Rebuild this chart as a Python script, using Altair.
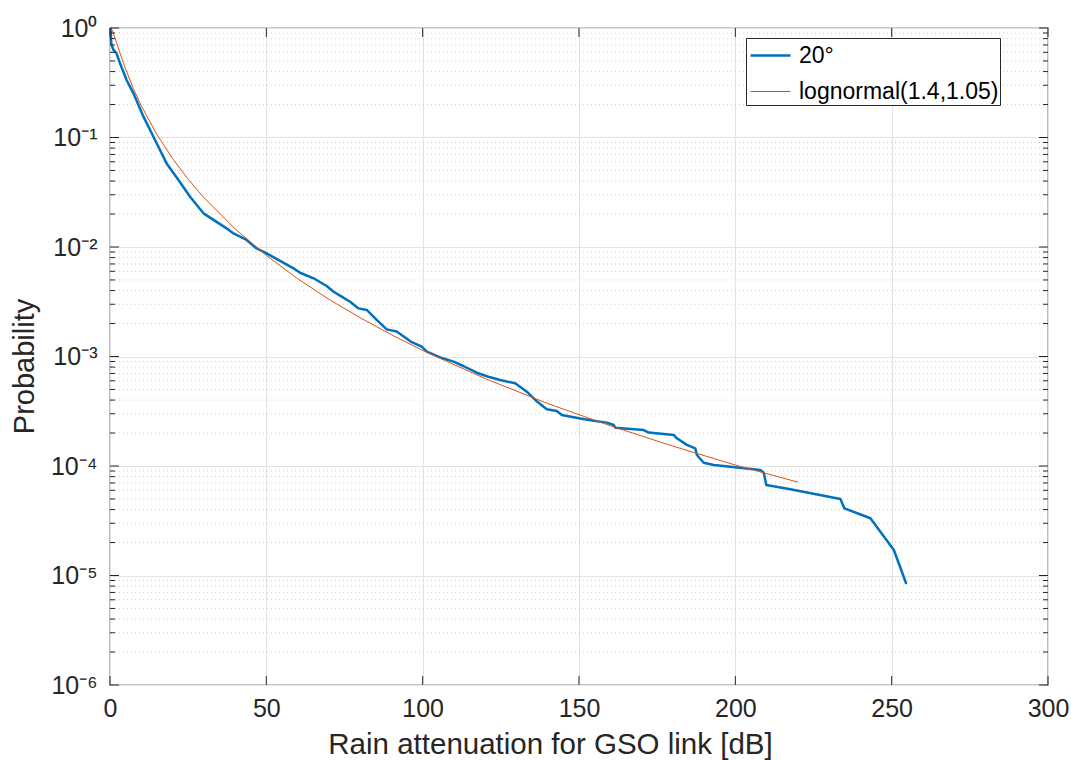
import altair as alt
import pandas as pd

# Measured exceedance curve, 20 deg elevation
att_20 = [0.2, 0.4, 1.1, 2.1, 3.2, 5.3, 7.5, 10.7, 13.9, 18.1, 21.9, 25.6, 29.9, 33.1, 37.3,
          39.5, 43.7, 46.9, 50.1, 58.7, 60.8, 65.1, 69.3, 71.5, 74.1, 76.8, 79.5, 82.1, 85.3, 88.5,
          91.7, 96.5, 99.7, 101.3, 105.6, 109.9, 113.0, 117.3, 121.0, 124.8, 129.6, 133.3, 136.0, 139.7, 142.9,
          144.5, 150.4, 154.7, 158.9, 161.1, 161.6, 170.7, 172.3, 180.3, 181.3, 184.5, 187.2, 187.7, 189.9, 193.1,
          198.4, 208.0, 209.1, 209.9, 217.6, 233.6, 234.9, 243.2, 250.7, 254.7]
prob_20 = [1.0, 0.72, 0.63, 0.587, 0.476, 0.335, 0.253, 0.155, 0.1016, 0.058, 0.041, 0.0288, 0.0203, 0.0177, 0.0148,
           0.0133, 0.0116, 0.0097, 0.00875, 0.00638, 0.00582, 0.00518, 0.0044, 0.0039, 0.00352, 0.00316, 0.00275, 0.00266, 0.00216, 0.00177,
           0.00169, 0.00135, 0.00123, 0.00111, 0.00098, 0.000898, 0.000819, 0.000711, 0.000654, 0.00061, 0.000569, 0.000477, 0.000401, 0.00033, 0.000318,
           0.000292, 0.000272, 0.000259, 0.000249, 0.000237, 0.000224, 0.000213, 0.000202, 0.000192, 0.000179, 0.000156, 0.000145, 0.000126, 0.000107, 0.000102,
           0.0000986, 0.000092, 0.0000869, 0.000067, 0.0000612, 0.00005, 0.000041, 0.0000333, 0.0000171, 0.00000836]

# Lognormal fit
att_fit = [0.3, 0.5, 1, 2, 3, 5, 7.5, 10, 15, 20, 25, 30, 40, 50, 60, 70, 80, 90, 100, 120, 140, 160, 180, 200, 220]
prob_fit = [0.993, 0.977, 0.909, 0.75, 0.613, 0.421, 0.279, 0.195, 0.1064, 0.0643, 0.0416, 0.0283, 0.01463, 0.00838,
            0.00514, 0.00333, 0.00226, 0.00158, 0.001137, 0.000628, 0.000372, 0.000233, 0.000152, 0.000102, 0.0000712]

series_names = ["20°", "lognormal(1.4,1.05)"]
series_colors = ["#0072BD", "#D95319"]
series_widths = [2.5, 1.0]

x_ticks = [0, 50, 100, 150, 200, 250, 300]
y_major = [1e-6, 1e-5, 1e-4, 1e-3, 1e-2, 1e-1, 1]
y_minor = [m * 10.0 ** e for e in range(-6, 0) for m in range(2, 10)]

W, H = 938, 657
FONT = "Liberation Sans"
INK = "#262626"

curves = pd.concat([
    pd.DataFrame({"att": att_20, "p": prob_20, "series": series_names[0], "i": range(len(att_20))}),
    pd.DataFrame({"att": att_fit, "p": prob_fit, "series": series_names[1], "i": range(len(att_fit))}),
])
major_df = pd.DataFrame({"v": y_major})
minor_df = pd.DataFrame({"v": y_minor})
xt_df = pd.DataFrame({"v": x_ticks})

xscale = alt.Scale(domain=[0, 300], nice=False, zero=False)
yscale = alt.Scale(type="log", domain=[1e-6, 1], nice=False)

# decade labels as 10 with a superscript exponent
sup = ("{'0':'⁰','-1':'⁻¹','-2':'⁻²','-3':'⁻³','-4':'⁻⁴','-5':'⁻⁵','-6':'⁻⁶'}"
       "['' + round(log(datum.value)/LN10)]")

x_enc = alt.X("att:Q", scale=xscale,
              axis=alt.Axis(values=x_ticks, grid=True, ticks=False, domain=False, labelFlush=False,
                            labelFontSize=25, labelPadding=11, labelColor=INK, labelFont=FONT,
                            title="Rain attenuation for GSO link [dB]", titleFontSize=29.5,
                            titleFontWeight="normal", titleColor=INK, titleFont=FONT,
                            titleX=440, titleY=68, titleBaseline="alphabetic", titleAlign="center",
                            titleAnchor="start"))
y_enc = alt.Y("p:Q", scale=yscale,
              axis=alt.Axis(values=y_major, grid=True, ticks=False, domain=False, labelFlush=False,
                            labelExpr="'10' + " + sup,
                            labelFontSize=25, labelPadding=13, labelColor=INK, labelFont=FONT,
                            title="Probability", titleFontSize=29, titleFontWeight="normal",
                            titleColor=INK, titleFont=FONT, titleAngle=270,
                            titleX=-77, titleY=338, titleBaseline="alphabetic", titleAlign="center",
                            titleAnchor="start"))

minor_grid = alt.Chart(minor_df).mark_rule(color="#cfcfcf", strokeWidth=1, strokeDash=[1, 3]).encode(
    y=alt.Y("v:Q", scale=yscale)
)

# legend box: 40 px line samples, trailing blank space inside the frame
legend_cfg = dict(title=None, orient="none", legendX=636, legendY=10,
                  strokeColor=INK, fillColor="white", padding=1,
                  symbolType="M-1.333,0H1.333", symbolSize=900, symbolOffset=7,
                  labelFontSize=23, labelFont=FONT, labelColor="black", labelOffset=12,
                  labelExpr="datum.label + '\u00a0\u00a0\u00a0\u00a0\u00a0\u00a0'",
                  rowPadding=8, labelLimit=400)

lines = alt.Chart(curves).mark_line(strokeCap="butt", strokeJoin="round").encode(
    x=x_enc,
    y=y_enc,
    order=alt.Order("i:Q"),
    color=alt.Color("series:N", scale=alt.Scale(domain=series_names, range=series_colors),
                    legend=alt.Legend(**legend_cfg)),
    strokeWidth=alt.StrokeWidth("series:N", scale=alt.Scale(domain=series_names, range=series_widths),
                                legend=alt.Legend(**legend_cfg)),
)

# Inward tick marks on all four sides of the box
tick = dict(color=INK, strokeWidth=1)
left_major = alt.Chart(major_df).mark_rule(**tick).encode(
    y=alt.Y("v:Q", scale=yscale), x=alt.value(0), x2=alt.value(9))
right_major = alt.Chart(major_df).mark_rule(**tick).encode(
    y=alt.Y("v:Q", scale=yscale), x=alt.value(W), x2=alt.value(W - 9))
left_minor = alt.Chart(minor_df).mark_rule(**tick).encode(
    y=alt.Y("v:Q", scale=yscale), x=alt.value(0), x2=alt.value(5))
right_minor = alt.Chart(minor_df).mark_rule(**tick).encode(
    y=alt.Y("v:Q", scale=yscale), x=alt.value(W), x2=alt.value(W - 5))
bottom_ticks = alt.Chart(xt_df).mark_rule(**tick).encode(
    x=alt.X("v:Q", scale=xscale), y=alt.value(H), y2=alt.value(H - 9))
top_ticks = alt.Chart(xt_df).mark_rule(**tick).encode(
    x=alt.X("v:Q", scale=xscale), y=alt.value(0), y2=alt.value(9))

chart = alt.layer(
    minor_grid, lines, left_major, right_major, left_minor, right_minor, bottom_ticks, top_ticks
).properties(
    width=W, height=H,
    autosize=alt.AutoSizeParams(type="none"),
    padding={"left": 110, "top": 28, "right": 23, "bottom": 75},
    background="white",
).configure_view(
    stroke=INK, strokeWidth=1.2
).configure_axis(
    gridColor="#e3e3e3", gridWidth=1
)

chart.save("out.html", embed_options={"renderer": "svg", "actions": False})
